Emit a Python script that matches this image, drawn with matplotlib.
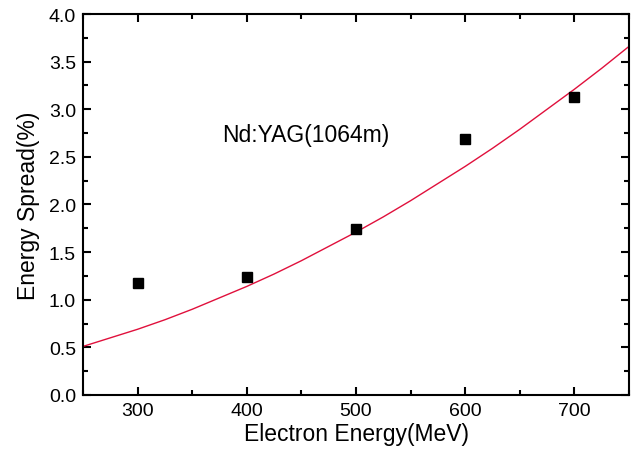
import numpy as np
import matplotlib
matplotlib.use("Agg")
import matplotlib.pyplot as plt
from matplotlib.ticker import MultipleLocator, FormatStrFormatter

plt.rcParams['font.family'] = ['Liberation Sans', 'DejaVu Sans']

# measured points
energy = [300, 400, 500, 600, 700]
spread = [1.18, 1.24, 1.74, 2.69, 3.13]

# fitted curve
fit_x = [250, 275, 300, 325, 350, 375, 400, 425, 450, 475, 500,
         525, 550, 575, 600, 625, 650, 675, 700, 725, 750]
fit_y = [0.51, 0.60, 0.69, 0.79, 0.90, 1.02, 1.14, 1.27, 1.41, 1.56, 1.71,
         1.87, 2.04, 2.22, 2.40, 2.59, 2.79, 3.00, 3.21, 3.43, 3.66]

fig = plt.figure(figsize=(6.36, 4.56), dpi=100)
ax = fig.add_axes([0.1305, 0.1316, 0.8585, 0.8355])

ax.plot(fit_x, fit_y, color='#e0103c', lw=1.0)
ax.plot(energy, spread, 's', color='black', ms=6.5, ls='none')

ax.set_xlim(250, 750)
ax.set_ylim(0, 4.0)
ax.xaxis.set_major_locator(MultipleLocator(100))
ax.xaxis.set_minor_locator(MultipleLocator(50))
ax.yaxis.set_major_locator(MultipleLocator(0.5))
ax.yaxis.set_minor_locator(MultipleLocator(0.25))
ax.yaxis.set_major_formatter(FormatStrFormatter('%.1f'))

ax.tick_params(which='both', direction='in', top=True, right=True, width=1.5, labelsize=14)
ax.tick_params(which='major', length=6, pad=5)
ax.tick_params(which='minor', length=3.5)
for s in ax.spines.values():
    s.set_linewidth(1.5)

ax.set_xlabel('Electron Energy(MeV)', fontsize=16.5, labelpad=2)
ax.set_ylabel('Energy Spread(%)', fontsize=16.5, labelpad=6)
ax.text(0.255, 0.685, 'Nd:YAG(1064m)', transform=ax.transAxes, fontsize=16.5,
        ha='left', va='center')

fig.savefig('out.png', dpi=100)
